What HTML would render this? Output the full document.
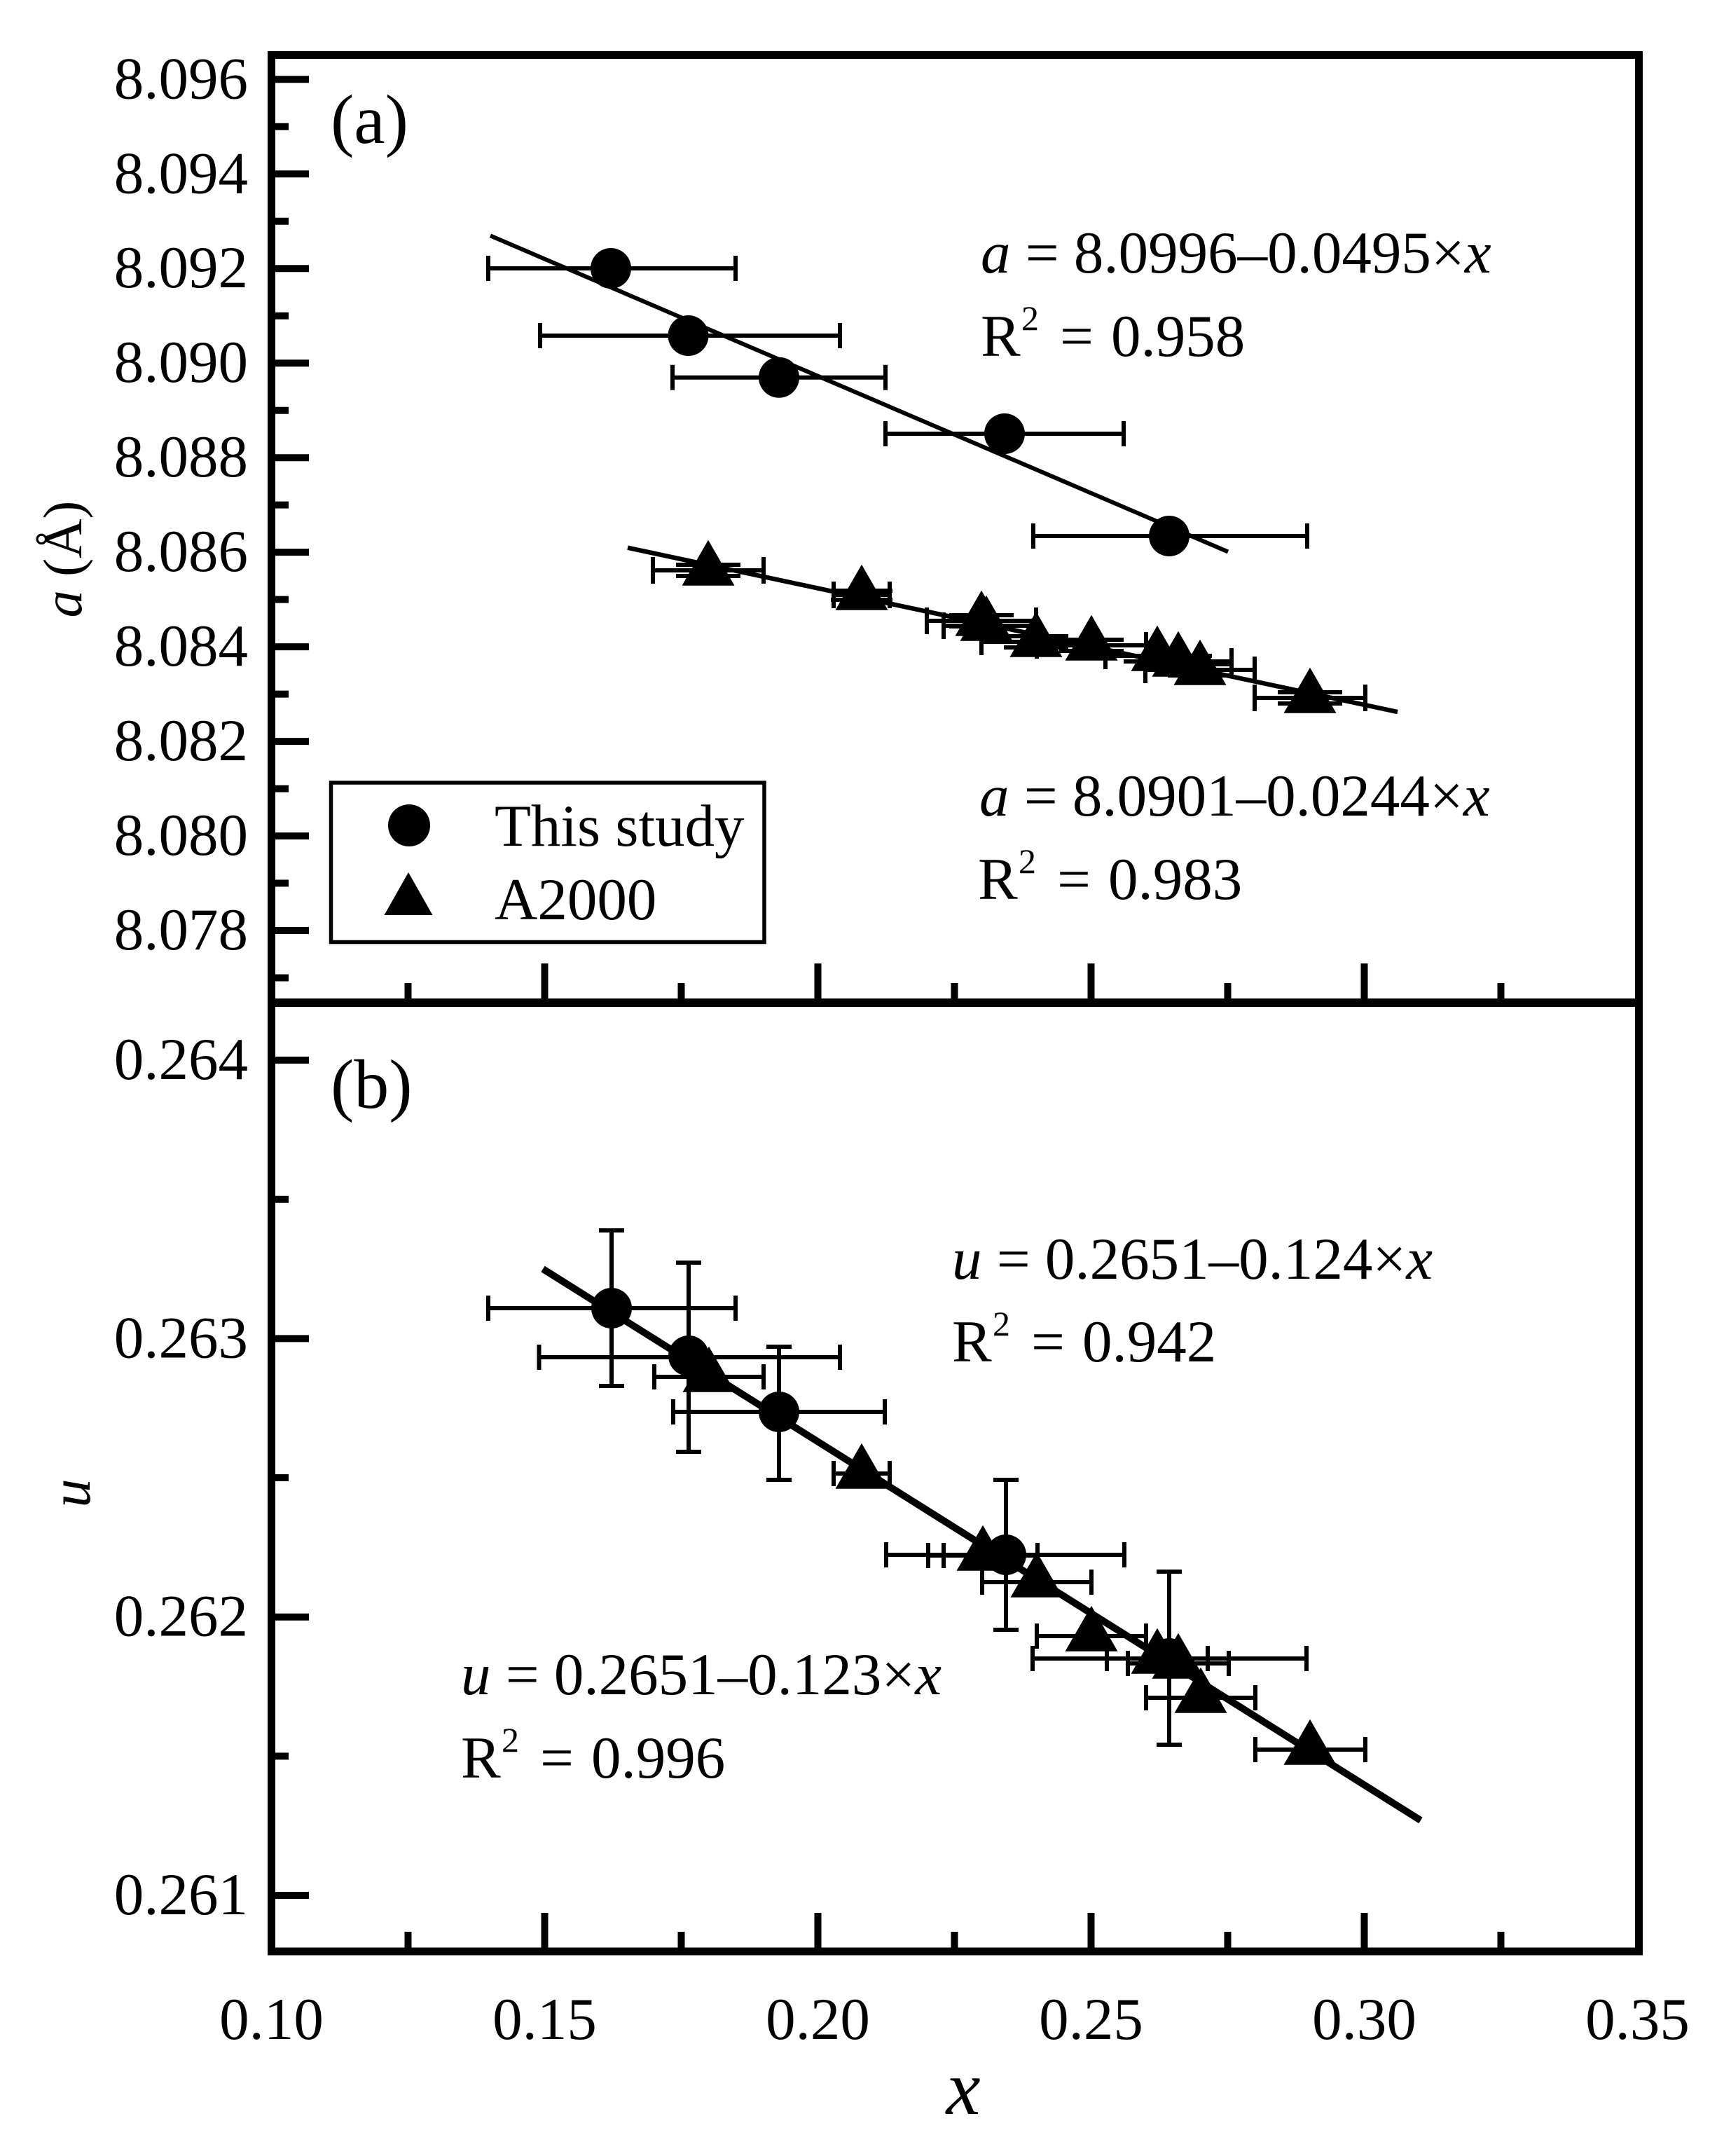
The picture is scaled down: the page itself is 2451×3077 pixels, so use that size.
<!DOCTYPE html>
<html><head><meta charset="utf-8"><style>html,body{margin:0;padding:0;background:#fff}svg{display:block}</style></head>
<body>
<svg width="2451" height="3077" viewBox="0 0 2451 3077" xmlns="http://www.w3.org/2000/svg" font-family="'Liberation Serif','Times New Roman',serif" fill="#000">
<rect width="2451" height="3077" fill="#fff"/>

<!-- frame -->
<rect x="387.5" y="78.5" width="1952" height="2706.5" fill="none" stroke="#000" stroke-width="11"/>
<line x1="382" y1="1431" x2="2345" y2="1431" stroke="#000" stroke-width="12"/>

<!-- y ticks top panel -->
<path stroke="#000" stroke-width="10" fill="none" d="
M388 113.3H441 M388 248.3H441 M388 383.2H441 M388 518.2H441 M388 653.2H441
M388 788.1H441 M388 923.1H441 M388 1058.1H441 M388 1193.1H441 M388 1328H441
M388 180.8H412 M388 315.7H412 M388 450.7H412 M388 585.7H412 M388 720.6H412
M388 855.6H412 M388 990.6H412 M388 1125.6H412 M388 1260.5H412 M388 1395.5H412"/>
<!-- y ticks bottom panel -->
<path stroke="#000" stroke-width="10" fill="none" d="
M388 1513H441 M388 1910.4H441 M388 2307.7H441 M388 2705H441
M388 1711.7H412 M388 2109H412 M388 2506.4H412"/>
<!-- x ticks top panel -->
<path stroke="#000" stroke-width="10" fill="none" d="
M777.5 1426V1375 M1167.5 1426V1375 M1557.5 1426V1375 M1947.5 1426V1375
M582.5 1426V1403 M972.5 1426V1403 M1362.5 1426V1403 M1752.5 1426V1403 M2142.5 1426V1403"/>
<!-- x ticks bottom panel -->
<path stroke="#000" stroke-width="10" fill="none" d="
M777.5 2780V2730 M1167.5 2780V2730 M1557.5 2780V2730 M1947.5 2780V2730
M582.5 2780V2757 M972.5 2780V2757 M1362.5 2780V2757 M1752.5 2780V2757 M2142.5 2780V2757"/>

<!-- y tick labels -->
<g font-size="85" text-anchor="end">
<text x="354" y="140.3">8.096</text>
<text x="354" y="275.3">8.094</text>
<text x="354" y="410.2">8.092</text>
<text x="354" y="545.2">8.090</text>
<text x="354" y="680.2">8.088</text>
<text x="354" y="815.1">8.086</text>
<text x="354" y="950.1">8.084</text>
<text x="354" y="1085.1">8.082</text>
<text x="354" y="1220.1">8.080</text>
<text x="354" y="1355">8.078</text>
<text x="354" y="1540">0.264</text>
<text x="354" y="1937.4">0.263</text>
<text x="354" y="2334.7">0.262</text>
<text x="354" y="2732">0.261</text>
</g>
<!-- x tick labels -->
<g font-size="85" text-anchor="middle">
<text x="387.5" y="2910">0.10</text>
<text x="777.5" y="2910">0.15</text>
<text x="1167.5" y="2910">0.20</text>
<text x="1557.5" y="2910">0.25</text>
<text x="1947.5" y="2910">0.30</text>
<text x="2337.5" y="2910">0.35</text>
</g>

<!-- axis titles -->
<text x="1375" y="3017" font-size="110" font-style="italic" text-anchor="middle">x</text>
<text transform="translate(116,798) rotate(-90)" font-size="78" text-anchor="middle"><tspan font-style="italic">a</tspan> (Å)</text>
<text transform="translate(128,2131) rotate(-90)" font-size="82" font-style="italic" text-anchor="middle">u</text>

<!-- panel labels -->
<text x="472" y="204" font-size="100">(a)</text>
<text x="472" y="1581" font-size="100">(b)</text>

<!-- ===== Top panel ===== -->
<!-- fit lines -->
<line x1="700" y1="336.4" x2="1753" y2="787.5" stroke="#000" stroke-width="6"/>
<line x1="896" y1="781.7" x2="1995" y2="1016" stroke="#000" stroke-width="6.5"/>

<!-- circle error bars -->
<g stroke="#000" stroke-width="6" fill="none">
<path d="M697 383H1050 M697 365V401 M1050 365V401"/>
<path d="M771 479H1199 M771 461V497 M1199 461V497"/>
<path d="M960 538.7H1264 M960 520.7V556.7 M1264 520.7V556.7"/>
<path d="M1264 619H1604 M1264 601V637 M1604 601V637"/>
<path d="M1475 765H1866 M1475 747V783 M1866 747V783"/>
</g>
<g>
<circle cx="872" cy="383" r="29"/>
<circle cx="982.5" cy="479" r="29"/>
<circle cx="1112" cy="538.7" r="29"/>
<circle cx="1434" cy="619" r="29"/>
<circle cx="1669" cy="765" r="29"/>
</g>

<!-- triangle error bars top -->
<g stroke="#000" stroke-width="6" fill="none">
<path d="M932 814H1090 M932 795V833 M1090 795V833 M965 806H1057 M965 822H1057"/>
<path d="M1190 849H1270 M1190 830V868 M1270 830V868 M1186 843H1274 M1186 856H1274"/>
<path d="M1323 886H1479 M1323 867V905 M1479 867V905 M1355 878H1447 M1355 894H1447"/>
<path d="M1347 893H1469 M1347 874V912"/>
<path d="M1401 916H1557 M1401 897V935 M1433 908H1525 M1433 924H1525"/>
<path d="M1480 921H1636 M1480 902V940 M1636 902V940 M1512 913H1604 M1512 929H1604"/>
<path d="M1578 936H1730 M1578 917V955"/>
<path d="M1604 944H1758 M1758 925V963"/>
<path d="M1635 956H1791 M1635 937V975 M1791 937V975 M1667 948H1759 M1667 964H1759"/>
<path d="M1791 996H1949 M1791 977V1015 M1949 977V1015 M1824 988H1916 M1824 1004H1916"/>
</g>
<g>
<polygon points="1011,770.7 973.5,835.7 1048.5,835.7"/>
<polygon points="1230,805.7 1192.5,870.7 1267.5,870.7"/>
<polygon points="1401,842.7 1363.5,907.7 1438.5,907.7"/>
<polygon points="1408,849.7 1370.5,914.7 1445.5,914.7"/>
<polygon points="1479,872.7 1441.5,937.7 1516.5,937.7"/>
<polygon points="1558,877.7 1520.5,942.7 1595.5,942.7"/>
<polygon points="1652,892.7 1614.5,957.7 1689.5,957.7"/>
<polygon points="1682,900.7 1644.5,965.7 1719.5,965.7"/>
<polygon points="1713,912.7 1675.5,977.7 1750.5,977.7"/>
<polygon points="1870,952.7 1832.5,1017.7 1907.5,1017.7"/>
</g>

<!-- equations top -->
<g font-size="85">
<text x="1400" y="389"><tspan font-style="italic">a</tspan> = 8.0996–0.0495×<tspan font-style="italic">x</tspan></text>
<text x="1400" y="508">R</text>
<text x="1458" y="471" font-size="50">2</text>
<text x="1513" y="508">=</text>
<text x="1586" y="508">0.958</text>

<text x="1398" y="1164"><tspan font-style="italic">a</tspan> = 8.0901–0.0244×<tspan font-style="italic">x</tspan></text>
<text x="1396" y="1283">R</text>
<text x="1454" y="1246" font-size="50">2</text>
<text x="1509" y="1283">=</text>
<text x="1582" y="1283">0.983</text>
</g>

<!-- legend -->
<rect x="472.5" y="1117" width="618.5" height="227.5" fill="none" stroke="#000" stroke-width="5.5"/>
<circle cx="584" cy="1178" r="30"/>
<polygon points="583,1245 548.5,1306 617.5,1306"/>
<text x="706" y="1207" font-size="85">This study</text>
<text x="706" y="1312" font-size="85">A2000</text>

<!-- ===== Bottom panel ===== -->
<line x1="775" y1="1811" x2="2028" y2="2598" stroke="#000" stroke-width="10"/>

<!-- circle error bars bottom -->
<g stroke="#000" stroke-width="6" fill="none">
<path d="M697 1867H1050 M697 1849V1885 M1050 1849V1885 M873 1756V1978 M855 1756H891 M855 1978H891"/>
<path d="M769.5 1937H1199 M769.5 1919V1955 M1199 1919V1955 M983 1802V2072 M965 1802H1001 M965 2072H1001"/>
<path d="M961 2015H1263 M961 1997V2033 M1263 1997V2033 M1112 1922V2112 M1094 1922H1130 M1094 2112H1130"/>
<path d="M1265 2219H1605 M1265 2201V2237 M1605 2201V2237 M1436 2112V2326 M1418 2112H1454 M1418 2326H1454"/>
<path d="M1474 2367H1865 M1474 2349V2385 M1865 2349V2385 M1669 2243V2490 M1651 2243H1687 M1651 2490H1687"/>
</g>
<!-- triangle error bars bottom -->
<g stroke="#000" stroke-width="6" fill="none">
<path d="M934 1965H1090 M934 1947V1983 M1090 1947V1983"/>
<path d="M1190 2103H1270 M1190 2085V2121 M1270 2085V2121"/>
<path d="M1325 2220H1481 M1325 2202V2238 M1347 2202V2238 M1481 2202V2238"/>
<path d="M1402 2258H1558 M1402 2240V2276 M1558 2240V2276"/>
<path d="M1480 2335H1636 M1480 2317V2353 M1636 2317V2353"/>
<path d="M1580 2367H1724 M1580 2349V2385 M1724 2349V2385"/>
<path d="M1610 2374H1754 M1610 2356V2392 M1754 2356V2392"/>
<path d="M1636 2423H1792 M1636 2405V2441 M1792 2405V2441"/>
<path d="M1792 2497H1949 M1792 2479V2515 M1949 2479V2515"/>
</g>
<g>
<circle cx="873" cy="1867" r="29"/>
<circle cx="983" cy="1935" r="29"/>
<circle cx="1112" cy="2015" r="29"/>
<circle cx="1436" cy="2219" r="29"/>
<circle cx="1669" cy="2367" r="29"/>
<polygon points="1012,1921.7 974.5,1986.7 1049.5,1986.7"/>
<polygon points="1230,2059.7 1192.5,2124.7 1267.5,2124.7"/>
<polygon points="1403,2176.7 1365.5,2241.7 1440.5,2241.7"/>
<polygon points="1480,2214.7 1442.5,2279.7 1517.5,2279.7"/>
<polygon points="1558,2291.7 1520.5,2356.7 1595.5,2356.7"/>
<polygon points="1652,2323.7 1614.5,2388.7 1689.5,2388.7"/>
<polygon points="1682,2330.7 1644.5,2395.7 1719.5,2395.7"/>
<polygon points="1714,2379.7 1676.5,2444.7 1751.5,2444.7"/>
<polygon points="1870,2453.7 1832.5,2518.7 1907.5,2518.7"/>
</g>

<!-- equations bottom -->
<g font-size="85">
<text x="1359" y="1825"><tspan font-style="italic">u</tspan> = 0.2651–0.124×<tspan font-style="italic">x</tspan></text>
<text x="1359" y="1943">R</text>
<text x="1417" y="1906" font-size="50">2</text>
<text x="1472" y="1943">=</text>
<text x="1545" y="1943">0.942</text>

<text x="658" y="2418"><tspan font-style="italic">u</tspan> = 0.2651–0.123×<tspan font-style="italic">x</tspan></text>
<text x="658" y="2537">R</text>
<text x="716" y="2500" font-size="50">2</text>
<text x="771" y="2537">=</text>
<text x="844" y="2537">0.996</text>
</g>
</svg>
</body></html>
